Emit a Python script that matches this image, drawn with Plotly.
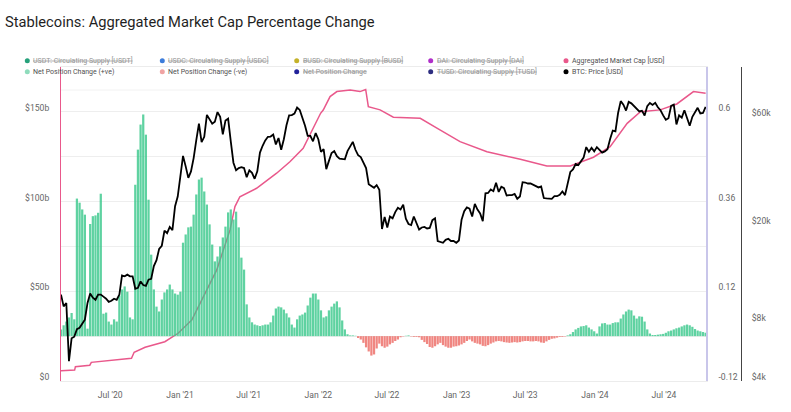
import plotly.graph_objects as go
import pandas as pd
import numpy as np

# ---------------- data ----------------
week_start = "2020-02-22"   # weekly samples (7-day step)

btc_2020 = [9.7, 8.6, 8.9, 4.9, 6.2, 6.3, 6.8, 6.9, 7.2, 7.5, 8.9, 9.8, 9.4, 9.2, 9.7,
            9.7, 9.5, 9.3, 9.0, 9.1, 9.3, 9.2, 9.7, 11.8, 11.7, 11.9, 11.7, 11.7, 10.3, 10.4,
            11.1, 10.7, 10.6, 11.3, 11.4, 13.0, 13.8, 15.5, 16.0, 18.7, 18.2, 19.4, 18.8, 24.0, 26.5]
btc_2021 = [32.2, 40.2, 36.1, 32.1, 34.3, 39.3, 47.2, 56.0, 46.3, 48.9, 61.2, 58.3, 55.9,
            57.1, 63.0, 60.0, 50.1, 57.8, 58.9, 46.7, 37.5, 34.7, 35.5, 35.8, 35.5, 32.3,
            34.7, 33.8, 31.8, 34.3, 41.6, 44.6, 47.1, 48.9, 49.0, 50.0, 45.2, 48.3, 42.8,
            47.7, 55.0, 60.9, 61.1, 62.0, 66.0, 64.4, 59.7, 54.8, 49.4, 49.4, 46.7, 50.8]
btc_2022 = [47.7, 41.9, 43.1, 35.1, 38.2, 41.4, 42.2, 40.1, 39.1, 39.0, 38.8, 42.2, 44.5,
            46.4, 42.8, 40.5, 39.7, 37.7, 35.5, 30.1, 29.4, 29.0, 29.8, 28.4, 19.0, 21.5,
            19.3, 21.6, 21.2, 22.6, 23.6, 23.2, 24.4, 21.1, 20.0, 19.8, 21.6, 20.1, 18.9,
            19.3, 19.4, 19.1, 19.2, 20.8, 21.2, 16.8, 16.7, 16.5, 17.0, 17.2, 16.8, 16.8, 16.5]
btc_2023 = [16.9, 20.9, 22.8, 23.7, 23.4, 21.6, 24.6, 23.2, 22.3, 20.6, 27.4, 27.5, 28.5,
            28.0, 30.5, 27.8, 29.3, 28.9, 26.8, 26.9, 26.9, 27.2, 25.9, 26.5, 30.7, 30.6,
            30.3, 30.3, 29.9, 29.3, 29.1, 29.4, 26.1, 26.0, 25.9, 25.9, 26.6, 26.6, 27.0,
            27.9, 26.9, 29.9, 34.1, 35.0, 37.0, 36.6, 37.8, 39.5, 44.0, 41.9, 43.7, 42.1]
btc_2024 = [44.0, 42.8, 41.6, 42.1, 43.0, 47.8, 52.1, 51.7, 62.4, 70.5, 68.0, 64.0, 69.9,
            68.9, 67.2, 64.9, 63.4, 63.9, 60.8, 67.0, 69.2, 67.8, 69.3, 66.2, 64.2, 60.9,
            58.2, 59.2, 67.1, 68.0, 55.5, 60.9, 59.5, 64.2, 58.9, 54.8, 60.0, 63.3, 65.8,
            62.1, 62.4, 66.5]

net_2020 = [0.018, 0.029, 0.039, 0.050, 0.062, 0.045, 0.368, 0.357, 0.339, 0.325, 0.020,
            0.300, 0.321, 0.323, 0.330, 0.381, 0.060, 0.063, 0.039, 0.031, 0.045, 0.039,
            0.109, 0.125, 0.133, 0.119, 0.050, 0.045, 0.405, 0.499, 0.566, 0.593, 0.539,
            0.365, 0.218, 0.125, 0.079, 0.066, 0.098, 0.117, 0.125, 0.138, 0.125, 0.114, 0.111]
net_2021 = [0.119, 0.250, 0.272, 0.291, 0.293, 0.325, 0.379, 0.419, 0.424, 0.387, 0.352,
            0.299, 0.245, 0.200, 0.213, 0.240, 0.264, 0.293, 0.331, 0.339, 0.312, 0.333,
            0.291, 0.210, 0.178, 0.085, 0.050, 0.037, 0.031, 0.029, 0.027, 0.029, 0.031,
            0.031, 0.037, 0.055, 0.074, 0.079, 0.077, 0.071, 0.061, 0.050, 0.031, 0.023,
            0.045, 0.055, 0.058, 0.063, 0.082, 0.103, 0.114, 0.114]
net_2022 = [0.098, 0.069, 0.050, 0.053, 0.069, 0.079, 0.087, 0.093, 0.077, 0.042, 0.018,
            0.005, 0.002, 0.002, 0.001, -0.005, -0.009, -0.018, -0.030, -0.041, -0.052,
            -0.049, -0.033, -0.020, -0.027, -0.031, -0.028, -0.022, -0.018, -0.013, -0.009,
            -0.003, -0.001, 0.001, 0.002, -0.001, -0.002, -0.002, -0.003, -0.010, -0.016,
            -0.021, -0.029, -0.031, -0.027, -0.022, -0.018, -0.024, -0.028, -0.031, -0.031,
            -0.028, -0.027]
net_2023 = [-0.025, -0.022, -0.018, -0.013, -0.009, -0.014, -0.018, -0.020, -0.022, -0.026,
            -0.027, -0.024, -0.020, -0.017, -0.014, -0.013, -0.014, -0.016, -0.017, -0.018,
            -0.017, -0.016, -0.017, -0.016, -0.014, -0.013, -0.013, -0.014, -0.014, -0.013,
            -0.014, -0.017, -0.018, -0.014, -0.010, -0.007, -0.006, -0.004, -0.002, -0.002,
            -0.001, 0.002, 0.005, 0.011, 0.018, 0.022, 0.026, 0.027, 0.029, 0.023, 0.018, 0.013]
net_2024 = [0.007, 0.026, 0.034, 0.035, 0.031, 0.031, 0.035, 0.037, 0.037, 0.047, 0.058,
            0.066, 0.071, 0.069, 0.055, 0.047, 0.053, 0.052, 0.039, 0.018, 0.007, 0.003,
            0.003, 0.004, 0.005, 0.006, 0.009, 0.013, 0.015, 0.018, 0.021, 0.023, 0.026,
            0.029, 0.031, 0.029, 0.025, 0.019, 0.015, 0.013, 0.011, 0.009]

mcap_dates = ["2020-02-22", "2020-03-29", "2020-03-31", "2020-05-08", "2020-05-12",
              "2020-08-26", "2020-09-02", "2020-10-01", "2020-11-22", "2020-12-27",
              "2021-02-01", "2021-03-03", "2021-04-08", "2021-05-13", "2021-05-26",
              "2021-06-08", "2021-07-22", "2021-09-13", "2021-10-18", "2021-11-22",
              "2021-12-05", "2021-12-19", "2022-01-07", "2022-01-14", "2022-02-01",
              "2022-02-19", "2022-03-26", "2022-04-21", "2022-05-06", "2022-05-13",
              "2022-06-13", "2022-07-18", "2022-09-27", "2022-11-10", "2023-01-10",
              "2023-03-22", "2023-06-18", "2023-08-27", "2023-10-28", "2023-12-28",
              "2024-02-10", "2024-03-26", "2024-04-30", "2024-06-21", "2024-08-04",
              "2024-09-17", "2024-10-19"]
mcap_bn = [5.7, 6.1, 8.0, 8.8, 10.4, 12.7, 16.0, 18.8, 21.9, 26.6,
           34.0, 47.0, 61.9, 84.2, 97.2, 102.7, 107.4, 115.8, 122.2, 129.7,
           135.3, 141.7, 149.2, 151.0, 158.5, 161.3, 162.2, 161.3, 162.5, 152.9,
           151.1, 147.0, 146.4, 140.9, 133.4, 127.8, 123.6, 119.8, 119.8, 124.7,
           130.6, 143.6, 150.1, 151.1, 154.4, 161.3, 160.4]

x_tick_dates = ["2020-07-01", "2021-01-01", "2021-07-01", "2022-01-01", "2022-07-01",
                "2023-01-01", "2023-07-01", "2024-01-01", "2024-07-01"]
x_tick_text = ["Jul '20", "Jan '21", "Jul '21", "Jan '22", "Jul '22",
               "Jan '23", "Jul '23", "Jan '24", "Jul '24"]
left_ticks = [0, 50e9, 100e9, 150e9]
left_text = ["$0", "$50b", "$100b", "$150b"]
right_ticks = [-0.12, 0.0, 0.12, 0.24, 0.36, 0.48, 0.6, 0.72]
right_text = ["-0.12", "", "0.12", "", "0.36", "", "0.6", ""]
btc_ticks = [4000, 7330, 19750, 59800]
btc_text = ["$4k", "$8k", "$20k", "$60k"]

legend_items = [
    ("USDT: Circulating Supply [USDT]", "#26a17b", False),
    ("USDC: Circulating Supply [USDC]", "#3d7ddb", False),
    ("BUSD: Circulating Supply [BUSD]", "#c4b22a", False),
    ("DAI: Circulating Supply [DAI]", "#b02fc9", False),
    ("Aggregated Market Cap [USD]", "#e9588b", True),
    ("Net Position Change (+ve)", "#8fdcbc", True),
    ("Net Position Change (-ve)", "#f0a3a3", True),
    ("Net Position Change", "#22229a", False),
    ("TUSD: Circulating Supply [TUSD]", "#2e2e80", False),
    ("BTC: Price [USD]", "#000000", True),
]

# ---------------- build ----------------
btc = [v * 1000 for v in btc_2020 + btc_2021 + btc_2022 + btc_2023 + btc_2024]
net = net_2020 + net_2021 + net_2022 + net_2023 + net_2024
dates = pd.date_range(week_start, periods=len(btc), freq="7D")
net_pos = [v if v > 0 else None for v in net]
net_neg = [v if v < 0 else None for v in net]
mcap = [v * 1e9 for v in mcap_bn]

W, H = 791, 412
ML, MR, MT, MB = 61, 40, 67, 31
pw, ph = W - ML - MR, H - MT - MB
x_right = (706 - ML) / pw
btc_pos = (741 - ML) / pw

FONT = "Roboto, Inter, sans-serif"
PINK = "#e9588b"

fig = go.Figure()
fig.add_trace(go.Scatter(x=pd.to_datetime(mcap_dates), y=mcap, mode="lines",
                         line=dict(color=PINK, width=1.5), yaxis="y",
                         name="Aggregated Market Cap [USD]", showlegend=False))
fig.add_trace(go.Bar(x=dates, y=net_pos, marker=dict(color="rgba(60,200,140,0.82)", line=dict(width=0)),
                     yaxis="y2", name="Net Position Change (+ve)", showlegend=False))
fig.add_trace(go.Bar(x=dates, y=net_neg, marker=dict(color="rgba(236,104,98,0.8)", line=dict(width=0)),
                     yaxis="y2", name="Net Position Change (-ve)", showlegend=False))
fig.add_trace(go.Scatter(x=dates, y=btc, mode="lines", line=dict(color="#000000", width=1.8),
                         yaxis="y3", name="BTC: Price [USD]", showlegend=False))

tickfont = dict(family=FONT, size=8.6, color="#666666")

fig.update_layout(
    width=W, height=H,
    margin=dict(l=ML, r=MR, t=MT, b=MB),
    paper_bgcolor="white", plot_bgcolor="white",
    barmode="overlay", bargap=0.15,
    font=dict(family=FONT),
    title=dict(text="Stablecoins: Aggregated Market Cap Percentage Change",
               x=5 / W, xanchor="left", y=1 - 22 / H, yanchor="middle",
               font=dict(family=FONT, size=14.7, color="#1f1f1f")),
    xaxis=dict(type="date", domain=[0, x_right], range=["2020-02-22", "2024-10-20"],
               tickvals=pd.to_datetime(x_tick_dates), ticktext=x_tick_text,
               showgrid=False, zeroline=False, showline=True, linecolor="#ececec",
               linewidth=1, mirror=True, ticks="", tickfont=tickfont, ticklabelstandoff=6),
    yaxis=dict(range=[0, 175e9], tickvals=left_ticks, ticktext=left_text,
               showgrid=False, zeroline=False, showline=True, linecolor=PINK, linewidth=1,
               ticks="", tickfont=tickfont, ticklabelstandoff=9, ticklabelshift=-4),
    yaxis2=dict(range=[-0.12, 0.72], tickvals=right_ticks, ticktext=right_text,
                overlaying="y", side="right", anchor="x",
                showgrid=True, gridcolor="#eeeeee", gridwidth=1, zeroline=False,
                showline=True, linecolor="#c9c6ea", linewidth=1.5,
                ticks="", tickfont=tickfont, ticklabelstandoff=9, ticklabelshift=-4),
    yaxis3=dict(type="log", range=[np.log10(4000), 5.0], tickvals=btc_ticks, ticktext=btc_text,
                overlaying="y", side="right", anchor="free", position=btc_pos,
                showgrid=False, zeroline=False, showline=True, linecolor="#444444", linewidth=1,
                ticks="", tickfont=tickfont, ticklabelstandoff=8, ticklabelshift=-4),
    showlegend=False,
)

# faint extra guide line near the top
fig.add_shape(type="line", xref="paper", yref="paper", x0=0, x1=x_right,
              y0=(381 - 90) / ph, y1=(381 - 90) / ph, line=dict(color="#f2f2f2", width=1), layer="below")

# manual legend (two rows of five)
col_x = [27.3, 162.3, 296.7, 430.7, 566.0]
row_y = [60.7, 71.7]
for k, (label, color, active) in enumerate(legend_items):
    px = col_x[k % 5]
    py = row_y[k // 5]
    xp = (px - ML) / pw
    yp = (H - MB - py) / ph
    fig.add_shape(type="circle", xref="paper", yref="paper", xsizemode="pixel", ysizemode="pixel",
                  xanchor=xp, yanchor=yp, x0=-2.5, x1=2.5, y0=-2.5, y1=2.5,
                  fillcolor=color, line=dict(width=0))
    txt = label if active else "<s>" + label + "</s>"
    fig.add_annotation(text=txt, xref="paper", yref="paper", x=(px + 4 - ML) / pw, y=yp,
                       xanchor="left", yanchor="middle", showarrow=False,
                       font=dict(family=FONT, size=7.0, color="#505050" if active else "#959595"))

fig.write_html("out.html", config={"displayModeBar": False},
               post_script="document.body.style.margin='0';document.body.style.overflow='hidden';")
